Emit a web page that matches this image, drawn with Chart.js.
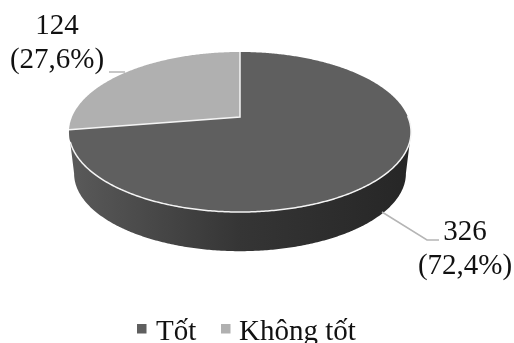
<!DOCTYPE html>
<html>
<head>
<meta charset="utf-8">
<script src="https://cdn.jsdelivr.net/npm/chart.js@4"></script>
<style>
  html, body { margin: 0; padding: 0; background: #fff; }
  canvas { display: block; }
</style>
</head>
<body>
<canvas id="pie" width="514" height="343"></canvas>
<script>
const categories = ['Tốt', 'Không tốt'];
const counts = [326, 124];
const percentLabels = ['(72,4%)', '(27,6%)'];
const sliceColors = ['#5f5f5f', '#b0b0b0'];

const FONT = '"Liberation Serif", "Times New Roman", serif';

// tilted disc: perspective projection of the unit circle
const cx = 240, apexY = 117;
const persp = 0.1875, yScale = 77.2, xScale = 168;
const wallDepth = 42, wallShrink = 0.97;

function project(angle, r = 1, drop = 0, shrink = 1) {
    const u = Math.cos(angle) * r, v = -Math.sin(angle) * r;
    const w = 1 + persp * v;
    return [cx + shrink * xScale * u / w, apexY + drop - shrink * yScale * v / w];
}

function rimPath(ctx, from, to, drop, shrink) {
    const steps = Math.ceil(Math.abs(to - from) / 0.01);
    for (let i = 0; i <= steps; i++) {
        const p = project(from + (to - from) * i / steps, 1, drop, shrink);
        ctx.lineTo(p[0], p[1]);
    }
}

const leaders = [
    { points: [[382, 212], [427, 240], [439, 240]], textX: 465, textY: [232, 266] },
    { points: [[109, 72], [125, 72]], textX: 57, textY: [26, 60] }
];

// legend sits tight under the pie, so it is laid out by hand
const legendItems = [
    { boxX: 137, textX: 156 },
    { boxX: 221, textX: 239 }
];

const tiltedPie = {
    id: 'tiltedPie',
    beforeDatasetsDraw(chart) {
        const ctx = chart.ctx;
        const arcs = chart.getDatasetMeta(0).data;

        // side wall, front half only
        const leftEdge = Math.PI - Math.asin(persp), rightEdge = Math.asin(persp);
        const wall = ctx.createLinearGradient(69, 0, 411, 0);
        wall.addColorStop(0, '#5a5a5a');
        wall.addColorStop(0.5, '#353535');
        wall.addColorStop(1, '#262626');
        ctx.save();
        ctx.beginPath();
        rimPath(ctx, rightEdge, leftEdge, 0, 1);
        rimPath(ctx, leftEdge, rightEdge, wallDepth, wallShrink);
        ctx.closePath();
        ctx.fillStyle = wall;
        ctx.fill();

        // top face, one path per slice from the arcs the controller computed
        arcs.forEach((arc, i) => {
            ctx.beginPath();
            ctx.moveTo(cx, apexY);
            rimPath(ctx, arc.startAngle, arc.endAngle, 0, 1);
            ctx.closePath();
            ctx.fillStyle = sliceColors[i];
            ctx.fill();
        });

        // white separators and front rim highlight
        ctx.strokeStyle = '#f4f4f4';
        ctx.lineWidth = 1.5;
        ctx.lineJoin = 'miter';
        ctx.beginPath();
        const a = project(arcs[0].endAngle), b = project(arcs[0].startAngle);
        ctx.moveTo(a[0], a[1]);
        ctx.lineTo(cx, apexY);
        ctx.lineTo(b[0], b[1]);
        ctx.stroke();
        ctx.beginPath();
        rimPath(ctx, rightEdge - 0.2, leftEdge - 0.12, 0, 1);
        ctx.stroke();

        // leader lines and value labels
        ctx.strokeStyle = '#b5b5b5';
        ctx.lineWidth = 1.5;
        ctx.fillStyle = '#111';
        ctx.font = '29px ' + FONT;
        ctx.textAlign = 'center';
        ctx.textBaseline = 'middle';
        leaders.forEach((l, i) => {
            ctx.beginPath();
            l.points.forEach((p, j) => j ? ctx.lineTo(p[0], p[1]) : ctx.moveTo(p[0], p[1]));
            ctx.stroke();
            ctx.fillText(String(counts[i]), l.textX, l.textY[0]);
            ctx.fillText(percentLabels[i], l.textX, l.textY[1]);
        });

        // legend
        ctx.textAlign = 'left';
        ctx.textBaseline = 'alphabetic';
        legendItems.forEach((item, i) => {
            ctx.fillStyle = sliceColors[i];
            ctx.fillRect(item.boxX, 324, 9.5, 9.5);
            ctx.fillStyle = '#111';
            ctx.fillText(categories[i], item.textX, 340);
        });
        ctx.restore();
        return false;
    }
};

new Chart(document.getElementById('pie'), {
    type: 'pie',
    data: {
        labels: categories,
        datasets: [{
            data: counts,
            backgroundColor: sliceColors,
            borderWidth: 0
        }]
    },
    options: {
        responsive: false,
        animation: false,
        plugins: {
            tooltip: { enabled: false },
            legend: { display: false }
        }
    },
    plugins: [tiltedPie]
});
</script>
</body>
</html>
